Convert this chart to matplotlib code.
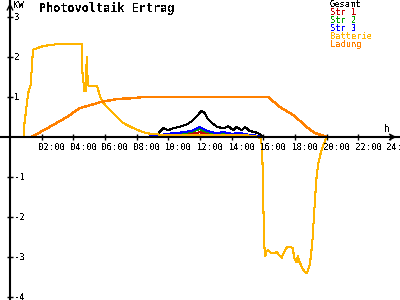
import numpy as np
import matplotlib
matplotlib.use("Agg")
import matplotlib.pyplot as plt

plt.rcParams['lines.antialiased'] = False
plt.rcParams['text.antialiased'] = False
plt.rcParams['font.family'] = 'DejaVu Sans Mono'

# Data (hours, kW)
t_gesamt = [0, 9.2, 9.5, 9.7, 10.0, 10.3, 10.7, 11.2, 11.5, 11.8, 12.1, 12.3, 12.5,
            12.75, 13.1, 13.5, 13.8, 14.1, 14.3, 14.65, 14.85, 15.15, 15.5, 15.8, 16.0, 20.0]
gesamt = [0, 0, 0.15, 0.22, 0.17, 0.22, 0.25, 0.32, 0.4, 0.52, 0.65, 0.6, 0.45,
          0.35, 0.25, 0.22, 0.27, 0.17, 0.25, 0.17, 0.25, 0.15, 0.12, 0.07, 0, 0]

t_str = [8.5, 9.0, 9.5, 10.0, 10.5, 11.0, 11.5, 11.8, 12.0, 12.2, 12.5, 13.0,
         13.5, 14.0, 14.5, 15.0, 15.5, 15.9, 17.0]
str1 = [0, 0.01, 0.02, 0.03, 0.04, 0.06, 0.08, 0.1, 0.12, 0.1, 0.07, 0.05,
        0.06, 0.04, 0.05, 0.03, 0.02, 0, 0]
str2 = [0, 0.01, 0.04, 0.06, 0.08, 0.1, 0.13, 0.18, 0.2, 0.16, 0.12, 0.08,
        0.1, 0.07, 0.08, 0.05, 0.03, 0, 0]
str3 = [0, 0.02, 0.05, 0.08, 0.1, 0.12, 0.16, 0.22, 0.25, 0.2, 0.15, 0.1,
        0.12, 0.08, 0.1, 0.06, 0.04, 0, 0]

t_batt = [0, 0.85, 0.9, 1.15, 1.3, 1.37, 1.45, 1.7, 2.0, 2.5, 3.0, 3.6, 4.53,
          4.58, 4.7, 4.78, 4.85, 4.92, 5.0, 5.5, 5.7, 5.9, 6.3, 6.75, 7.15, 7.8,
          8.4, 9.0, 10.0, 11.0, 12.0, 13.0, 14.0, 15.0, 15.5, 15.85, 15.94, 15.97,
          16.02, 16.08, 16.13, 16.17, 16.32, 16.53, 16.85, 17.16, 17.37, 17.52,
          17.86, 17.96, 18.11, 18.19, 18.28, 18.43, 18.57, 18.74, 18.91, 19.01,
          19.12, 19.2, 19.31, 19.37, 19.48, 19.63, 19.8, 20.0, 24.0]
batterie = [0, 0, 0.3, 1.1, 1.3, 1.68, 2.18, 2.22, 2.26, 2.3, 2.32, 2.33, 2.33,
            1.6, 1.15, 1.15, 2.0, 1.3, 1.28, 1.28, 1.0, 0.85, 0.68, 0.5, 0.35, 0.22,
            0.12, 0.07, 0.05, 0.05, 0.06, 0.05, 0.05, 0.04, 0.02, -0.03, -0.33, -1.12,
            -1.95, -2.78, -2.98, -2.87, -2.83, -2.91, -2.88, -3.02, -2.83, -2.74,
            -2.77, -3.03, -3.13, -2.98, -3.12, -3.24, -3.35, -3.41, -3.24, -2.99,
            -2.53, -1.99, -1.33, -0.99, -0.66, -0.4, -0.2, 0, 0]

t_ladung = [0, 1.35, 2.5, 3.6, 4.4, 5.7, 6.75, 7.77, 8.4, 16.3, 17.05, 17.9,
            18.75, 19.25, 19.9, 20.0, 24.0]
ladung = [0, 0, 0.25, 0.5, 0.72, 0.87, 0.95, 0.97, 1.0, 1.0, 0.75, 0.55,
          0.25, 0.1, 0.02, 0, 0]

names = ['Gesamt', 'Str 1', 'Str 2', 'Str 3', 'Batterie', 'Ladung']
colors = ['#000000', '#c00000', '#00a000', '#0000ff', '#ffb400', '#ff8000']
hours = [2, 4, 6, 8, 10, 12, 14, 16, 18, 20, 22, 24]
kw = [-4, -3, -2, -1, 1, 2, 3]

fig = plt.figure(figsize=(4, 3), dpi=100)
ax = fig.add_axes([0, 0, 1, 1])
ax.set_xlim(-0.632, 24.64)
ax.set_ylim(-4.075, 3.425)

for s in ['top', 'right']:
    ax.spines[s].set_visible(False)
ax.spines['left'].set_position(('data', 0))
ax.spines['bottom'].set_position(('data', 0))
ax.spines['left'].set_linewidth(1.5)
ax.spines['bottom'].set_linewidth(1.5)
ax.set_xticks(hours)
ax.set_yticks(kw)
ax.tick_params(direction='inout', length=5, width=1, labelbottom=False, labelleft=False)

series = [(t_gesamt, gesamt), (t_str, str1), (t_str, str2), (t_str, str3),
          (t_batt, batterie), (t_ladung, ladung)]
widths = [0.75, 0.75, 0.75, 0.75, 0.75, 1.0]
for (t, v), c, w in zip(series, colors, widths):
    ax.plot(t, v, color=c, lw=w)

for h in hours:
    ax.text(h - 0.2, -0.27, '%02d:00' % h, fontsize=6.5, ha='left', va='center')
for k in kw:
    ax.text(0.25, k, str(k), fontsize=6.5, ha='left', va='center')

ax.annotate('', xy=(24.6, 0), xytext=(24.0, 0),
            arrowprops=dict(arrowstyle='->', lw=1, color='black'))
ax.annotate('', xy=(0, 3.42), xytext=(0, 3.0),
            arrowprops=dict(arrowstyle='->', lw=1, color='black'))
ax.text(0.2, 3.3, 'KW', fontsize=6.5, ha='left', va='center')
ax.text(23.8, 0.21, 'h', fontsize=7, ha='center', va='center')

ax.text(1.85, 3.22, 'Photovoltaik Ertrag', fontsize=8.5, fontweight='bold',
        ha='left', va='center')

for i, (n, c) in enumerate(zip(names, colors)):
    fig.text(330 / 400, 1 - (4.5 + 8 * i) / 300, n, color=c, fontsize=6.2,
             ha='left', va='center')

fig.savefig('out.png', dpi=100)
